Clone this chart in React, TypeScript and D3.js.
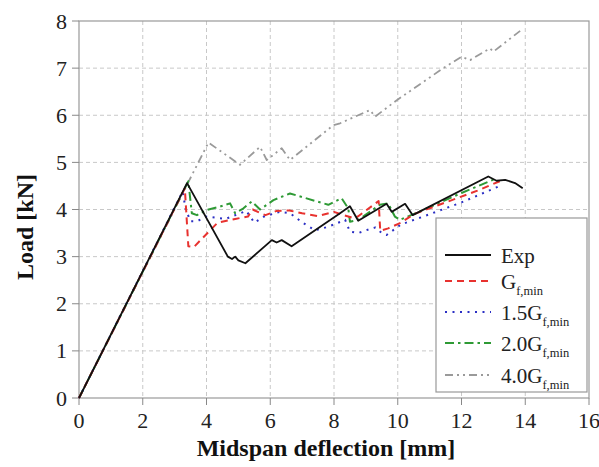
import React, { useEffect, useRef } from "react";
import * as d3 from "d3";

type P = [number, number];

const expData: P[] = [[0,0],[3.39,4.56],[4.67,3.0],[4.8,2.95],[4.9,3.0],[5.0,2.92],[5.22,2.86],[6.05,3.35],[6.2,3.3],[6.36,3.35],[6.67,3.22],[8.19,3.92],[8.4,4.02],[8.5,4.07],[8.76,3.76],[9.65,4.12],[9.81,3.95],[10.23,4.12],[10.47,3.88],[12.84,4.7],[13.1,4.61],[13.37,4.63],[13.68,4.56],[13.92,4.45]];
const gf1Data: P[] = [[0,0],[3.32,4.45],[3.43,3.22],[3.6,3.2],[4.1,3.55],[4.35,3.72],[4.9,3.8],[5.3,3.85],[5.45,4.0],[5.7,3.92],[5.85,3.88],[6.2,3.97],[6.6,3.98],[7.0,3.92],[7.5,3.86],[8.0,3.95],[8.3,3.88],[8.6,3.82],[8.75,3.85],[9.4,4.18],[9.45,3.55],[9.7,3.6],[10.1,3.72],[10.5,3.9],[11.5,4.15],[12.5,4.4],[13.2,4.6]];
const gf15Data: P[] = [[0,0],[3.25,4.38],[3.35,4.0],[3.5,3.75],[3.7,3.75],[4.0,3.85],[4.6,3.8],[5.25,3.97],[5.5,3.72],[5.8,3.85],[6.3,3.95],[6.62,3.92],[7.04,3.71],[7.4,3.56],[7.8,3.63],[8.1,3.71],[8.35,3.78],[8.5,3.53],[8.76,3.5],[9.1,3.58],[9.3,3.62],[9.5,3.5],[9.65,3.46],[10.1,3.68],[11.0,3.9],[12.0,4.15],[13.2,4.5]];
const gf20Data: P[] = [[0,0],[3.43,4.6],[3.54,3.92],[3.7,3.88],[4.0,3.99],[4.42,4.06],[4.74,4.13],[4.9,3.92],[5.15,4.02],[5.42,4.17],[5.68,4.0],[6.1,4.2],[6.62,4.34],[7.82,4.1],[8.24,4.24],[8.45,4.02],[8.5,3.74],[8.76,3.78],[9.44,4.1],[9.7,4.13],[9.91,3.85],[10.07,3.78],[11.0,4.05],[12.0,4.35],[13.1,4.66]];
const gf40Data: P[] = [[0,0],[4.06,5.42],[5.05,4.95],[5.68,5.33],[5.89,5.05],[6.36,5.3],[6.62,5.05],[7.98,5.79],[8.19,5.83],[9.13,6.11],[9.29,5.97],[9.97,6.32],[11.43,7.0],[12.0,7.24],[12.27,7.17],[12.89,7.42],[13.0,7.35],[13.84,7.79]];

const xTicks = [0, 2, 4, 6, 8, 10, 12, 14, 16];
const yTicks = [0, 1, 2, 3, 4, 5, 6, 7, 8];

const seriesNames = ["Exp", "G", "1.5G", "2.0G", "4.0G"];
const seriesSubs = ["", "f,min", "f,min", "f,min", "f,min"];

const FONT = "Liberation Serif";

export default function App() {
  const ref = useRef<SVGSVGElement>(null);
  useEffect(() => {
    const svg = d3.select(ref.current);
    svg.selectAll("*").remove();
    const L = 79, R = 589, T = 21, B = 398;
    const x = d3.scaleLinear().domain([0, 16]).range([L, R]);
    const y = d3.scaleLinear().domain([0, 8]).range([B, T]);

    const styles = [
      { data: expData, color: "#111", dash: null as string | null, w: 1.8 },
      { data: gf1Data, color: "#e8322f", dash: "7,5", w: 2 },
      { data: gf15Data, color: "#2b2fc4", dash: "2,5.5", w: 2 },
      { data: gf20Data, color: "#2e9a35", dash: "9,4,2.5,4", w: 2 },
      { data: gf40Data, color: "#9a9a9a", dash: "8,4,2,4,2,4", w: 1.8 },
    ];

    const g = svg.append("g");
    xTicks.slice(1, -1).forEach((t) => {
      g.append("line").attr("x1", x(t)).attr("x2", x(t)).attr("y1", T).attr("y2", B)
        .attr("stroke", "#c8c8c8").attr("stroke-width", 1).attr("stroke-dasharray", "4,3");
    });
    yTicks.slice(1, -1).forEach((t) => {
      g.append("line").attr("x1", L).attr("x2", R).attr("y1", y(t)).attr("y2", y(t))
        .attr("stroke", "#c8c8c8").attr("stroke-width", 1).attr("stroke-dasharray", "4,3");
    });
    g.append("rect").attr("x", L).attr("y", T).attr("width", R - L).attr("height", B - T)
      .attr("fill", "none").attr("stroke", "#999").attr("stroke-width", 1.2);

    xTicks.forEach((t) => {
      g.append("line").attr("x1", x(t)).attr("x2", x(t)).attr("y1", B).attr("y2", B + 7)
        .attr("stroke", "#888");
      g.append("text").attr("x", x(t)).attr("y", B + 30).attr("text-anchor", "middle")
        .attr("font-family", FONT).attr("font-size", 22).attr("fill", "#222").text(t);
    });
    yTicks.forEach((t) => {
      g.append("line").attr("x1", L - 7).attr("x2", L).attr("y1", y(t)).attr("y2", y(t))
        .attr("stroke", "#888");
      g.append("text").attr("x", L - 12).attr("y", y(t) + 7.5).attr("text-anchor", "end")
        .attr("font-family", FONT).attr("font-size", 22).attr("fill", "#222").text(t);
    });

    g.append("text").attr("x", 326).attr("y", 456).attr("text-anchor", "middle")
      .attr("font-family", FONT).attr("font-size", 24).attr("font-weight", "bold")
      .attr("fill", "#111").text("Midspan deflection [mm]");
    g.append("text").attr("transform", `translate(33,227) rotate(-90)`).attr("text-anchor", "middle")
      .attr("font-family", FONT).attr("font-size", 24).attr("font-weight", "bold")
      .attr("fill", "#111").text("Load [kN]");

    const line = d3.line<P>().x((d) => x(d[0])).y((d) => y(d[1]));
    styles.slice().reverse().forEach((s) => {
      const p = svg.append("path").datum(s.data).attr("d", line).attr("fill", "none")
        .attr("stroke", s.color).attr("stroke-width", s.w).attr("stroke-linejoin", "round");
      if (s.dash) p.attr("stroke-dasharray", s.dash);
    });

    const lg = svg.append("g");
    lg.append("rect").attr("x", 436).attr("y", 218).attr("width", 151).attr("height", 174)
      .attr("fill", "white").attr("stroke", "#999").attr("stroke-width", 1.2);
    const ly = [255, 281, 312, 343, 375];
    styles.forEach((s, i) => {
      const l = lg.append("line").attr("x1", 445).attr("x2", 491).attr("y1", ly[i]).attr("y2", ly[i])
        .attr("stroke", s.color).attr("stroke-width", s.w);
      if (s.dash) l.attr("stroke-dasharray", s.dash);
      const t = lg.append("text").attr("x", 501).attr("y", ly[i] + 7.5)
        .attr("font-family", FONT).attr("font-size", 21).attr("fill", "#222");
      t.append("tspan").text(seriesNames[i]);
      if (seriesSubs[i]) {
        t.append("tspan").attr("dy", 6).attr("font-size", 12.5).text(seriesSubs[i]);
      }
    });
  }, []);
  return (
    <svg ref={ref} width={599} height={467}
      style={{ position: "absolute", left: 0, top: 0, background: "white" }} />
  );
}
